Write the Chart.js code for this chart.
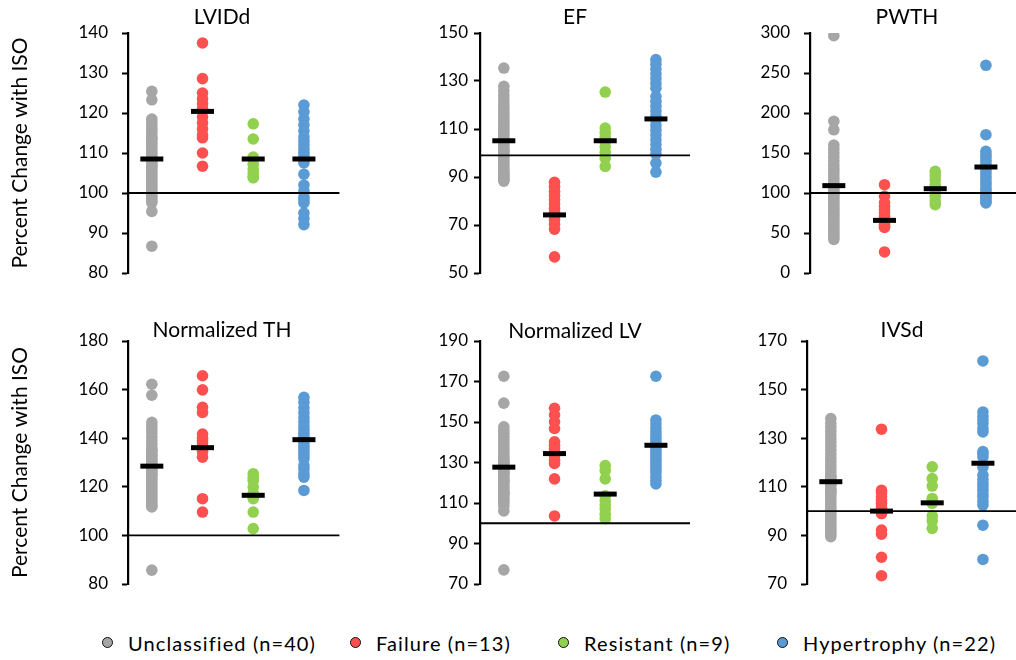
<!DOCTYPE html>
<html>
<head>
<meta charset="utf-8">
<script src="https://cdn.jsdelivr.net/npm/chart.js@4.4.0/dist/chart.umd.min.js"></script>
<style>
  html, body { margin: 0; padding: 0; background: #fff; overflow: hidden; }
  #wrap { position: relative; width: 1016px; height: 660px; overflow: hidden; }
  #wrap canvas { position: absolute; }
  .item { position: absolute; top: 631px; height: 24px; line-height: 24px;
          font-family: Lato, sans-serif; font-size: 20px; letter-spacing: 1.1px; color: #000; white-space: nowrap; }
  .item i { position: absolute; left: 0; top: 6px; width: 9px; height: 9px;
            border: 1.6px solid #111; border-radius: 50%; }
  .item span { position: absolute; left: 26px; top: 0; }
</style>
</head>
<body>
<div id="wrap"></div>
<script>
// groups and colours
let groups = ['Unclassified (n=40)', 'Failure (n=13)', 'Resistant (n=9)', 'Hypertrophy (n=22)'];
let colors = ['#A6A6A6', '#FF5050', '#92D050', '#5B9BD5'];

// points per group: [unclassified, failure, resistant, hypertrophy]
let lviddPoints = [
    [125.4, 123.3, 118.5, 117.8, 117, 116.2, 115.5, 114.8, 114, 113.6, 113.3, 112.6, 112, 111.3, 110.6, 110, 109.4, 108.8, 108.2, 107.6,
     107, 106.8, 106.4, 105.8, 105.2, 104.6, 104, 103.4, 102.8, 102.2, 101.6, 101, 100.4, 99.8, 99.2, 98.6, 98, 97.6, 95.4, 86.7],
    [137.5, 128.6, 125, 123.5, 122.3, 121, 119, 117.5, 116, 114.5, 113.8, 110, 106.7],
    [117.3, 113.5, 109, 108.5, 107.2, 106, 105, 104.2, 103.8],
    [122, 120.3, 118.5, 117, 115.5, 114, 113, 112, 111, 110.2, 109.3, 108.4, 107.5, 104.7, 102, 100.5, 99, 98.3, 97.5, 95, 93.6, 92.1]
];
let efPoints = [
    [135.4, 127.8, 126, 124.2, 122.5, 121, 119.5, 118.2, 117, 115.8, 114.6, 113.5, 112.4, 111.3, 110.3, 109.3, 108.3, 107.3, 106.3, 105.3,
     104.3, 103.3, 102.3, 101.3, 100.8, 100.3, 99.3, 98.3, 97.3, 96.3, 95.3, 94.3, 93.3, 92.3, 91.5, 90.7, 90, 89.4, 88.8, 88.3],
    [87.8, 86, 84, 82.3, 80.5, 78.8, 77, 75.5, 74, 72.2, 70.3, 68.3, 56.7],
    [125.4, 110.4, 108.5, 106.5, 104.5, 102.5, 100.3, 97.8, 94.4],
    [138.9, 137, 135, 133, 131, 129, 127, 123.5, 121.5, 119.5, 117.5, 115.5, 113.5, 111.5, 109.5, 107.5, 105.5, 103.5, 101.5, 99.5, 95.8, 92]
];
let pwthPoints = [
    [296.7, 189.6, 179, 160, 155, 150, 145, 140, 135, 131, 127, 123, 119, 115, 111, 110, 108, 105, 102, 100,
     99, 96, 93, 90, 87, 84, 81, 78, 75, 72, 69, 66, 63, 60, 57, 54, 51, 48, 45, 42],
    [110.4, 95.8, 88, 83.3, 79, 75, 71, 67, 64, 61, 58.3, 57, 26.3],
    [127, 122, 116.7, 110, 106, 101, 95.8, 90, 85.4],
    [259.6, 172.9, 152, 148, 145, 141, 137.5, 133, 129, 125, 121, 117, 113, 110, 106, 103, 100, 97, 95, 92, 89.5, 87.5]
];
let thPoints = [
    [162.2, 157.7, 146.5, 145, 143.5, 142, 140.5, 139, 137.5, 136, 135, 134.8, 133.6, 133, 132.4, 131.2, 131, 130, 129, 128.8,
     127.6, 127, 126.4, 125.2, 125, 124, 123, 122, 121, 120, 119, 118, 117, 116, 115, 114, 113, 112, 111.7, 85.7],
    [165.7, 159.9, 152.7, 150.6, 141.7, 140, 139, 138, 136.3, 134.5, 132.2, 115.1, 109.6],
    [125.4, 123.8, 122.6, 119.9, 117.4, 116, 115.1, 109.6, 102.8],
    [156.8, 154.8, 152.5, 150.5, 148.5, 146.8, 145, 143.5, 142, 140.7, 139.3, 138, 136.7, 135.3, 134, 132.8, 131.5, 128.8, 127.3, 125.4, 124, 118.5]
];
let lvPoints = [
    [172.6, 159.3, 147.6, 146, 144.5, 143, 141.5, 140, 138.5, 137, 135.5, 134, 132.8, 131.6, 130.4, 130, 129.2, 128, 127.5, 126.8,
     125.6, 125, 124.4, 123.2, 122, 121, 120.8, 119.6, 118.4, 117.2, 116, 115, 114.8, 113.6, 112.4, 111.2, 110, 108.5, 106.1, 77],
    [156.8, 153.5, 150.1, 146.8, 140.2, 138.5, 136.8, 135, 133.5, 131, 129.5, 121.9, 103.6],
    [128.5, 126, 121.9, 113.5, 111.1, 109, 107, 104.5, 102.3],
    [172.6, 151, 149, 147, 145.3, 143.6, 142, 140.5, 139, 137.6, 136.2, 134.8, 133.4, 132, 130.6, 129.2, 127.8, 126.4, 125, 123, 121.2, 119.4]
];
let ivsdPoints = [
    [138.1, 136.2, 134.6, 133, 131.4, 129.8, 128.2, 126.6, 125, 123.5, 122, 120.5, 119, 117.6, 116.2, 114.8, 114, 113.4, 112, 111,
     110.7, 109.4, 108.1, 108, 106.8, 105.5, 104.2, 103, 101.8, 100.6, 99.4, 98.2, 97, 95.9, 94.8, 93.7, 92.6, 91.6, 90.6, 89.5],
    [133.7, 108.6, 107.5, 105.9, 104.5, 103.2, 101.5, 100.4, 99, 92.2, 90.5, 81, 73.4],
    [118.2, 113.4, 110.3, 105.2, 104, 103.2, 98, 96, 92.9],
    [161.8, 140.8, 139, 137.5, 136, 134, 132.6, 124.5, 123.7, 122.3, 118, 114.8, 113, 111.4, 110, 108.6, 107, 105.9, 104, 102.5, 94.2, 80.1]
];

// group means (black bars)
let lviddMeans = [108.5, 120.4, 108.5, 108.5];
let efMeans = [105.1, 74.2, 105.1, 114.2];
let pwthMeans = [109.2, 65.8, 105.4, 132.5];
let thMeans = [128.5, 136.1, 116.5, 139.4];
let lvMeans = [127.7, 134.4, 114.4, 138.5];
let ivsdMeans = [112.1, 100, 103.4, 119.7];

// reference line value per panel
let baselines = [100, 99, 100, 100, 100, 100];

// y axis ranges: [min, max, step]
let yRanges = [[80, 140, 10], [50, 150, 20], [0, 300, 50], [80, 180, 20], [70, 190, 20], [70, 170, 20]];

let titles = ['LVIDd', 'EF', 'PWTH', 'Normalized TH', 'Normalized LV', 'IVSd'];
let yTitle = 'Percent Change with ISO';

// layout of each panel canvas; tx/ty = title centre inside the canvas
let panels = [
    {pts: lviddPoints, means: lviddMeans, left: 0,   top: 0,   w: 340, h: 300, yw: 128, tickPad: 14, tx: 222, ty: 17, axisTitle: true},
    {pts: efPoints,    means: efMeans,    left: 420, top: 0,   w: 270, h: 300, yw: 60,  tickPad: 6,  tx: 155, ty: 17, axisTitle: false},
    {pts: pwthPoints,  means: pwthMeans,  left: 750, top: 0,   w: 266, h: 300, yw: 60,  tickPad: 14, tx: 157, ty: 17, axisTitle: false},
    {pts: thPoints,    means: thMeans,    left: 0,   top: 300, w: 340, h: 310, yw: 128, tickPad: 14, tx: 222, ty: 30, axisTitle: true},
    {pts: lvPoints,    means: lvMeans,    left: 420, top: 300, w: 270, h: 310, yw: 60,  tickPad: 6,  tx: 155, ty: 31, axisTitle: false},
    {pts: ivsdPoints,  means: ivsdMeans,  left: 747, top: 300, w: 269, h: 310, yw: 60,  tickPad: 14, tx: 155, ty: 30, axisTitle: false}
];

Chart.defaults.font.family = 'Lato, sans-serif';
Chart.defaults.color = '#000';

// panel title drawn at a fixed spot, like the spreadsheet charts
let panelTitle = {
    id: 'panelTitle',
    afterDraw(chart, args, opts) {
        let ctx = chart.ctx;
        ctx.save();
        ctx.font = '21px Lato, sans-serif';
        ctx.fillStyle = '#000';
        ctx.textAlign = 'center';
        ctx.textBaseline = 'middle';
        ctx.fillText(opts.text, opts.x, opts.y);
        ctx.restore();
    }
};

let xMin = -0.47, lineEnd = 3.7, pxPerGroup = 50.7;
let wrap = document.getElementById('wrap');

panels.forEach((p, k) => {
    let canvas = document.createElement('canvas');
    canvas.width = p.w;
    canvas.height = p.h;
    canvas.style.left = p.left + 'px';
    canvas.style.top = p.top + 'px';
    wrap.appendChild(canvas);

    let firstRow = k < 3;
    let xMax = xMin + (p.w - p.yw) / pxPerGroup;
    let datasets = p.pts.map((vals, g) => ({
        label: groups[g],
        data: vals.map(v => ({x: g, y: v})),
        backgroundColor: colors[g],
        borderColor: colors[g],
        pointRadius: 5.8,
        borderWidth: 0,
        order: 2
    }));
    datasets.push({
        label: 'baseline',
        data: [{x: xMin, y: baselines[k]}, {x: Math.min(lineEnd, xMax), y: baselines[k]}],
        showLine: true,
        borderColor: '#000',
        borderWidth: 1.8,
        pointRadius: 0,
        order: 1
    });
    datasets.push({
        label: 'mean',
        data: p.means.map((m, g) => ({x: g, y: m})),
        pointStyle: 'line',
        pointRadius: 11.5,
        borderColor: '#000',
        borderWidth: 5,
        order: 0
    });

    new Chart(canvas.getContext('2d'), {
        type: 'scatter',
        data: {datasets: datasets},
        plugins: [panelTitle],
        options: {
            responsive: false,
            animation: false,
            events: [],
            layout: {
                autoPadding: false,
                padding: {left: 0, right: 0, top: firstRow ? 33 : 41, bottom: firstRow ? 27 : 26}
            },
            plugins: {
                legend: {display: false},
                tooltip: {enabled: false},
                panelTitle: {text: titles[k], x: p.tx, y: p.ty}
            },
            scales: {
                x: {type: 'linear', display: false, min: xMin, max: xMax},
                y: {
                    min: yRanges[k][0],
                    max: yRanges[k][1],
                    ticks: {stepSize: yRanges[k][2], padding: p.tickPad, font: {size: 17}},
                    grid: {drawOnChartArea: false, drawTicks: true, tickLength: 6, tickColor: '#000', tickWidth: 2},
                    border: {display: true, color: '#000', width: 2.2},
                    title: {display: p.axisTitle, text: yTitle, font: {size: 21}, padding: {top: 7.4, bottom: 0}},
                    afterFit: s => { s.width = p.yw; }
                }
            }
        }
    });
});

// legend at the bottom
let legendLeft = [102, 350, 558, 777];
groups.forEach((g, i) => {
    let d = document.createElement('div');
    d.className = 'item';
    d.style.left = legendLeft[i] + 'px';
    d.innerHTML = '<i style="background:' + colors[i] + '"></i><span>' + g + '</span>';
    wrap.appendChild(d);
});
</script>
</body>
</html>
